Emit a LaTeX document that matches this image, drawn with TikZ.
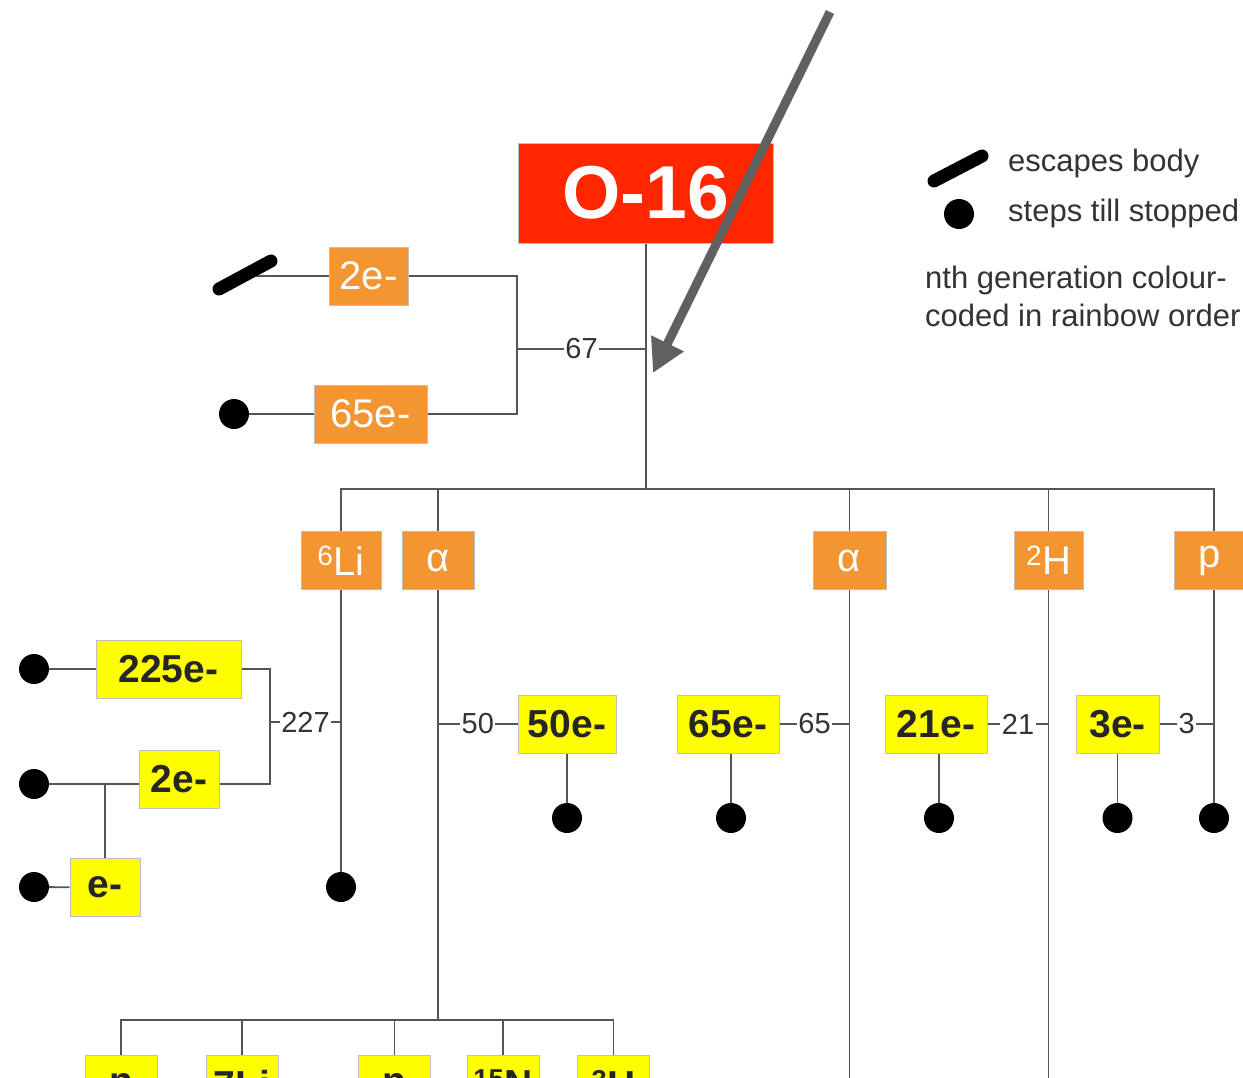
\documentclass[tikz,border=0pt]{standalone}
\usepackage{fontspec}
\setmainfont{Liberation Sans}
\usetikzlibrary{arrows.meta}

\definecolor{gen0}{HTML}{FF2600}
\definecolor{gen1}{HTML}{F39530}
\definecolor{gen2}{HTML}{FFFF00}
\definecolor{wirecol}{HTML}{555555}
\definecolor{ink}{HTML}{333333}
\definecolor{pointer}{HTML}{606060}

\begin{document}
\begin{tikzpicture}[x=1pt,y=-1pt,
    box/.style={draw=black!25,line width=1pt,inner sep=0pt,minimum height=58pt,
      font=\fontsize{40}{44}\selectfont},
    firstgen/.style={box,fill=gen1,text=white},
    secondgen/.style={box,fill=gen2,text=black!85,font=\fontsize{39}{44}\selectfont\bfseries},
    wire/.style={draw=wirecol,line width=1.8pt},
    count/.style={fill=white,inner sep=1.5pt,text=ink,font=\fontsize{29}{32}\selectfont},
    stopdot/.style={circle,fill=black,inner sep=0pt,minimum size=30pt},
    escape/.style={line width=13pt,line cap=round},
    legend/.style={anchor=base west,inner sep=0pt,text=ink,font=\fontsize{31}{38}\selectfont}]
        \useasboundingbox (0,0) rectangle (1243,1077);
        \clip (0,0) rectangle (1243,1077);

        % Kern
        \node[box,fill=gen0,text=white,minimum width=255pt,minimum height=100pt,
              font=\fontsize{75}{80}\selectfont\bfseries] (o16) at (646,193) {O-16};

        % erste Generation
        \node[firstgen,minimum width=79pt] (e2a) at (368.5,276) {2e-};
        \node[firstgen,minimum width=113pt] (e65a) at (370.5,414) {65e-};
        \node[firstgen,minimum width=80pt] (li6) at (341,560.5) {\textsuperscript{6}Li};
        \node[firstgen,minimum width=72pt] (alphaA) at (438,560.5) {α};
        \node[firstgen,minimum width=73pt] (alphaB) at (849.5,560.5) {α};
        \node[firstgen,minimum width=69pt] (h2) at (1048.5,560.5) {\textsuperscript{2}H};
        \node[firstgen,minimum width=72pt] (p) at (1210,560.5) {p};

        % zweite Generation
        \node[secondgen,minimum width=145pt] (e225) at (168.5,669) {225e-};
        \node[secondgen,minimum width=80pt] (e2b) at (179,779) {2e-};
        \node[secondgen,minimum width=70pt] (e1) at (105,887.5) {e-};
        \node[secondgen,minimum width=98pt] (e50) at (567,724) {50e-};
        \node[secondgen,minimum width=102pt] (e65b) at (728,724) {65e-};
        \node[secondgen,minimum width=102pt] (e21) at (936,724) {21e-};
        \node[secondgen,minimum width=83pt] (e3) at (1117.5,724) {3e-};

        \node[secondgen,minimum width=72pt] (b1) at (121,1084) {n};
        \node[secondgen,minimum width=72pt] (b2) at (242,1084) {7Li};
        \node[secondgen,minimum width=72pt] (b3) at (394.5,1084) {n};
        \node[secondgen,minimum width=72pt] (b4) at (503,1084) {\textsuperscript{15}N};
        \node[secondgen,minimum width=72pt] (b5) at (613.5,1084) {\textsuperscript{3}H};

        % Endpunkte
        \node[stopdot] (s65a) at (234,414) {};
        \node[stopdot] (s225) at (34,669) {};
        \node[stopdot] (s2b) at (34,784) {};
        \node[stopdot] (se1) at (34,887) {};
        \node[stopdot] (sli6) at (341,887) {};
        \node[stopdot] (s50) at (567,818) {};
        \node[stopdot] (s65b) at (731,818) {};
        \node[stopdot] (s21) at (939,818) {};
        \node[stopdot] (s3) at (1117.5,818) {};
        \node[stopdot] (sp) at (1214,818) {};

        % Zerfall O-16
        \coordinate (bus) at (646,489);
        \draw[wire] (o16.south) -- (bus);
        \draw[wire] (li6.north) -- (li6.north |- bus) -- (sp |- bus) -- (sp |- p.north);
        \foreach \n in {alphaA,alphaB,h2}
            \draw[wire] (\n.north) -- (\n.north |- bus);

        % Elektronen aus O-16
        \coordinate (j67) at (517,349);
        \coordinate (esc1) at (252,276);
        \draw[wire] (e2a.east) -| (j67) |- (e65a.east);
        \draw[wire] (j67) -- node[count] {67} (j67 -| o16.south);
        \draw[wire] (e2a.west) -- (esc1);
        \draw[escape] ([shift={(-33,13)}]esc1) -- ([shift={(19,-15)}]esc1);
        \draw[wire] (s65a) -- (e65a);

        % 6Li
        \coordinate (j227) at (270,722);
        \draw[wire] (li6.south) -- (sli6);
        \draw[wire] (j227) -- node[count] {227} (j227 -| li6.south);
        \draw[wire] (e225.east) -| (j227) |- (e2b.east |- s2b);
        \draw[wire] (s225) -- (e225);
        \draw[wire] (s2b) -- (s2b -| e2b.west);
        \draw[wire] (e1.north) -- (e1.north |- s2b);
        \draw[wire] (se1) -- (e1);

        % alpha links
        \coordinate (busA) at (437,1020);
        \draw[wire] (alphaA.south) -- (alphaA.south |- busA);
        \draw[wire] (b1.north) -- (b1.north |- busA) -- (b5.north |- busA) -- (b5.north);
        \foreach \n in {b2,b3,b4}
            \draw[wire] (\n.north) -- (\n.north |- busA);
        \draw[wire] (alphaA.south |- e50.west) -- node[count] {50} (e50.west);
        \draw[wire] (s50 |- e50.south) -- (s50);

        % alpha rechts, 2H, p
        \coordinate (endB) at (849.5,1090);
        \coordinate (endH) at (1048.5,1090);
        \draw[wire] (alphaB.south) -- (endB);
        \draw[wire] (e65b.east) -- node[count] {65} (e65b.east -| alphaB.south);
        \draw[wire] (s65b |- e65b.south) -- (s65b);
        \draw[wire] (h2.south) -- (endH);
        \draw[wire] (e21.east) -- node[count] {21} (e21.east -| h2.south);
        \draw[wire] (s21 |- e21.south) -- (s21);
        \draw[wire] (sp |- p.south) -- (sp);
        \draw[wire] (e3.east) -- node[count] {3} (e3.east -| sp);
        \draw[wire] (s3 |- e3.south) -- (s3);

        % Legende
        \coordinate (legesc) at (958,168);
        \draw[escape] ([shift={(-24,13)}]legesc) -- ([shift={(24,-12)}]legesc);
        \node[stopdot] (legdot) at (959,214) {};
        \node[legend] (legtxta) at (1008,171) {escapes body};
        \node[legend] (legtxtb) at (1008,221) {steps till stopped};
        \node[legend] (legtxtc) at (925,288) {nth generation colour-};
        \node[legend] (legtxtd) at (925,326) {coded in rainbow order};

        % Pfeil
        \coordinate (src) at (830,12);
        \coordinate (hit) at (653,373);
        \draw[pointer,line width=9pt,-{Triangle[length=33pt,width=34pt]}] (src) -- (hit);
\end{tikzpicture}
\end{document}
